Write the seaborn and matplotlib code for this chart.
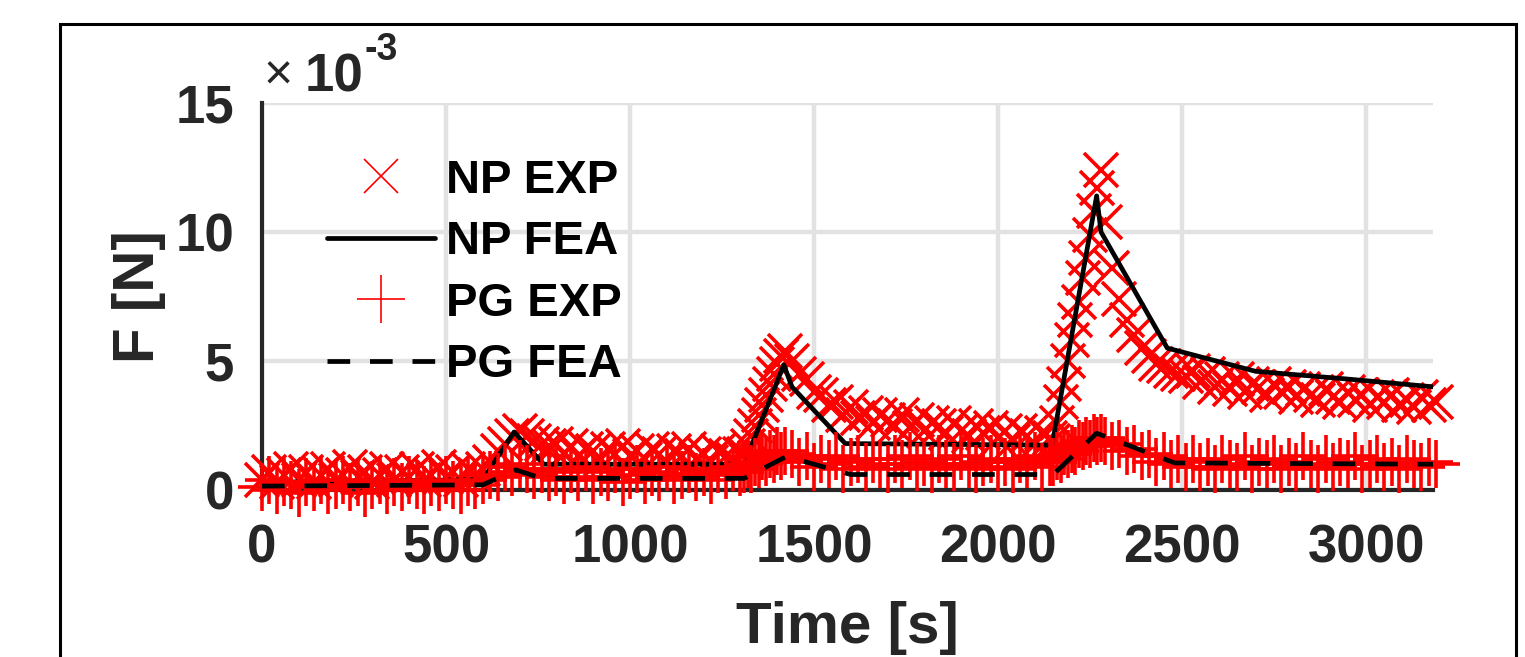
import numpy as np
import pandas as pd
import seaborn as sns
import matplotlib
matplotlib.use("Agg")
import matplotlib.pyplot as plt
from matplotlib.patches import Rectangle

# ---------------- data (forces in units of 1e-3 N) ----------------
# experiment sampling times [s] (denser on the fast rising edges)
t_seg_a = np.arange(0, 600, 20)
t_seg_b = np.arange(600, 800, 20)
t_seg_c = np.arange(800, 1310, 20)
t_seg_d = np.arange(1310, 1430, 10)
t_seg_e = np.arange(1440, 2150, 20)
t_seg_f = np.arange(2150, 2290, 10)
t_seg_g = np.arange(2290, 2520, 20)
t_seg_h = np.arange(2530, 3200, 20)
t_exp = np.concatenate([t_seg_a, t_seg_b, t_seg_c, t_seg_d,
                        t_seg_e, t_seg_f, t_seg_g, t_seg_h])

np_exp = [
    # 0-580
    0.4, 0.7, 0.3, 0.6, 0.8, 0.4, 0.7, 0.3, 0.6, 0.8,
    0.4, 0.6, 0.9, 0.5, 0.7, 0.3, 0.6, 0.8, 0.4, 0.7,
    0.5, 0.8, 0.4, 0.6, 0.9, 0.5, 0.7, 0.4, 0.8, 0.6,
    # 600-780
    0.8, 1.1, 1.5, 1.8, 2.1, 2.3, 2.1, 1.9, 1.8, 1.7,
    # 800-1300
    1.8, 1.4, 1.7, 1.3, 1.6, 1.5, 1.2, 1.6, 1.4, 1.7,
    1.3, 1.5, 1.2, 1.6, 1.4, 1.1, 1.5, 1.3, 1.6, 1.2,
    1.4, 1.1, 1.5, 1.3, 1.2, 1.4,
    # 1310-1420
    1.4, 1.7, 2.1, 2.5, 2.9, 3.3, 3.7, 4.1, 4.5, 4.9, 5.2, 5.4,
    # 1440-2140
    5.0, 4.5, 4.3, 3.8, 3.7, 3.3, 3.4, 2.9, 3.2, 2.8,
    3.0, 2.6, 2.9, 2.7, 2.5, 2.9, 2.4, 2.7, 2.3, 2.6,
    2.5, 2.2, 2.6, 2.3, 2.1, 2.5, 2.2, 2.4, 2.0, 2.3,
    1.9, 2.3, 2.1, 1.8, 2.2, 2.0,
    # 2150-2280
    1.9, 2.6, 3.4, 4.1, 5.0, 5.8, 6.6, 7.3, 8.2, 9.0, 9.9, 10.8, 11.7, 12.4,
    # 2290-2510
    10.4, 8.6, 7.4, 6.6, 6.0, 5.5, 5.2, 4.9, 4.8, 4.6, 4.5, 4.4,
    # 2530-3190
    4.6, 4.2, 4.5, 4.0, 4.3, 3.9, 4.3, 3.8, 4.1, 4.0,
    3.7, 4.1, 3.8, 4.0, 3.6, 3.9, 3.7, 3.5, 3.9, 3.6,
    3.4, 3.8, 3.5, 3.7, 3.3, 3.6, 3.4, 3.7, 3.3, 3.5,
    3.2, 3.6, 3.3, 3.4,
]

pg_exp = [
    # 0-580
    0.1, 0.4, 0.0, 0.3, 0.2, -0.1, 0.3, 0.1, 0.4, 0.0,
    0.2, 0.4, 0.1, 0.3, -0.1, 0.2, 0.4, 0.0, 0.3, 0.1,
    0.4, 0.2, 0.0, 0.3, 0.1, 0.4, 0.2, 0.0, 0.3, 0.2,
    # 600-780
    0.4, 0.6, 0.5, 0.9, 0.7, 1.0, 0.8, 0.6, 0.8, 0.5,
    # 800-1300
    0.7, 0.4, 0.8, 0.5, 0.9, 0.4, 0.7, 0.5, 0.8, 0.3,
    0.6, 0.8, 0.4, 0.7, 0.5, 0.9, 0.4, 0.6, 0.8, 0.5,
    0.7, 0.4, 0.8, 0.6, 0.9, 0.7,
    # 1310-1420
    0.8, 1.0, 0.8, 1.1, 1.0, 1.3, 1.1, 1.4, 1.2, 1.5, 1.3, 1.5,
    # 1440-2140
    1.4, 1.1, 1.3, 0.9, 1.2, 1.0, 1.3, 0.8, 1.1, 1.2,
    0.9, 1.2, 1.0, 0.8, 1.2, 1.0, 1.3, 0.9, 1.1, 0.8,
    1.2, 1.0, 0.9, 1.3, 1.0, 0.8, 1.1, 1.2, 0.9, 1.1,
    0.8, 1.2, 1.0, 1.3, 0.9, 1.1,
    # 2150-2280
    1.1, 1.3, 1.2, 1.5, 1.4, 1.6, 1.5, 1.8, 1.7, 1.9, 1.8, 2.0, 1.9, 2.0,
    # 2290-2510
    1.9, 1.7, 1.8, 1.5, 1.6, 1.3, 1.4, 1.1, 1.3, 1.0, 1.2, 0.9,
    # 2530-3190
    1.2, 0.9, 1.1, 0.8, 1.2, 1.0, 0.9, 1.3, 0.8, 1.1,
    1.0, 1.2, 0.8, 1.1, 0.9, 1.3, 1.0, 0.8, 1.2, 0.9,
    1.1, 1.0, 1.3, 0.8, 1.0, 1.2, 0.9, 1.1, 0.8, 1.2,
    1.0, 0.9, 1.1, 1.0,
]

# FEA results
t_np_fea = [0, 600, 685, 765, 1310, 1418, 1440, 1585, 2147, 2268, 2280, 2460, 2700, 2950, 3182]
np_fea = [0.3, 0.4, 2.25, 1.0, 1.0, 4.85, 4.0, 1.8, 1.74, 11.4, 10.0, 5.5, 4.6, 4.3, 4.0]

t_pg_fea = [0, 600, 690, 760, 1310, 1425, 1600, 2150, 2268, 2480, 3182]
pg_fea = [0.15, 0.2, 0.78, 0.45, 0.45, 1.3, 0.6, 0.6, 2.2, 1.05, 1.0]

labels = ["NP EXP", "NP FEA", "PG EXP", "PG FEA"]
x_ticks = [0, 500, 1000, 1500, 2000, 2500, 3000]
y_ticks = [0, 5, 10, 15]

# ---------------- styling ----------------
sns.set_theme(style="whitegrid")
plt.rcParams["font.family"] = ["Liberation Sans", "DejaVu Sans"]
plt.rcParams["font.weight"] = "bold"

W, H = 1525, 657
fig = plt.figure(figsize=(W / 100, H / 100), dpi=100)
fig.patch.set_facecolor("white")
ax = fig.add_axes([262 / W, 1 - 490 / H, (1433 - 262) / W, (490 - 103) / H])
ax.set_facecolor("white")

df_exp = pd.DataFrame({"t": t_exp, "np": np_exp, "pg": pg_exp})
df_np = pd.DataFrame({"t": t_np_fea, "v": np_fea})
df_pg = pd.DataFrame({"t": t_pg_fea, "v": pg_fea})

red = "#ff0000"
sns.lineplot(data=df_exp, x="t", y="np", ax=ax, linestyle="", marker="x",
             markersize=24, markeredgewidth=2.6, color=red, markeredgecolor=red,
             clip_on=False, label=labels[0], sort=False, estimator=None, zorder=3)
sns.lineplot(data=df_np, x="t", y="v", ax=ax, color="black", linewidth=3.4,
             label=labels[1], sort=False, estimator=None, zorder=4)
sns.lineplot(data=df_exp, x="t", y="pg", ax=ax, linestyle="", marker="+",
             markersize=34, markeredgewidth=2.6, color=red, markeredgecolor=red,
             clip_on=False, label=labels[2], sort=False, estimator=None, zorder=5)
sns.lineplot(data=df_pg, x="t", y="v", ax=ax, color="black", linewidth=3.4,
             label=labels[3], sort=False, estimator=None, zorder=6)
pg_line = ax.get_lines()[-1]
pg_line.set_dashes((4.8, 4.2))

ax.set_xlim(0, 3182)
ax.set_ylim(0, 15)
ax.set_xticks(x_ticks)
ax.set_yticks(y_ticks)
ax.grid(True, color="#e2e2e2", linewidth=3.2)
ax.set_axisbelow(True)
for s in ["top", "right"]:
    ax.spines[s].set_visible(False)
for s in ["left", "bottom"]:
    ax.spines[s].set_color("#262626")
    ax.spines[s].set_linewidth(3)
ax.tick_params(direction="in", length=9, width=3, colors="#262626", labelsize=38)
ax.tick_params(axis="x", pad=24)
ax.tick_params(axis="y", pad=20)
for lbl in ax.get_xticklabels() + ax.get_yticklabels():
    lbl.set_fontweight("bold")

ax.set_xlabel("Time [s]", fontsize=42, fontweight="bold", color="#262626", labelpad=20)
ax.set_ylabel("F [N]", fontsize=42, fontweight="bold", color="#262626", labelpad=7)

handles, _ = ax.get_legend_handles_labels()
leg = ax.legend(handles, labels, loc="upper left",
                bbox_to_anchor=(327 / W, 1 - 159 / H), bbox_transform=fig.transFigure,
                frameon=False, prop={"size": 34, "weight": "bold"},
                handlelength=2.28, handletextpad=0.24, labelspacing=0.37,
                borderpad=0, borderaxespad=0, numpoints=1)
for txt in leg.get_texts():
    txt.set_color("black")
for h in leg.legend_handles:
    try:
        h.set_markeredgewidth(1.2)
    except Exception:
        pass

# exponent annotation
fig.text(264 / W, 1 - 77 / H, "\u00d7", fontsize=36, fontweight="normal",
         color="#262626", va="center", ha="left")
fig.text(305 / W, 1 - 92 / H, "10", fontsize=38, fontweight="bold",
         color="#262626", va="baseline", ha="left")
fig.text(364 / W, 1 - 60 / H, "-3", fontsize=27, fontweight="bold",
         color="#262626", va="baseline", ha="left")

# outer frame of the cropped figure
fig.patches.append(Rectangle((60 / W, -0.1), (1516 - 60) / W, 0.1 + (H - 24) / H,
                             transform=fig.transFigure, fill=False,
                             edgecolor="black", linewidth=2.2))

fig.savefig("out.png", dpi=100, facecolor="white")
